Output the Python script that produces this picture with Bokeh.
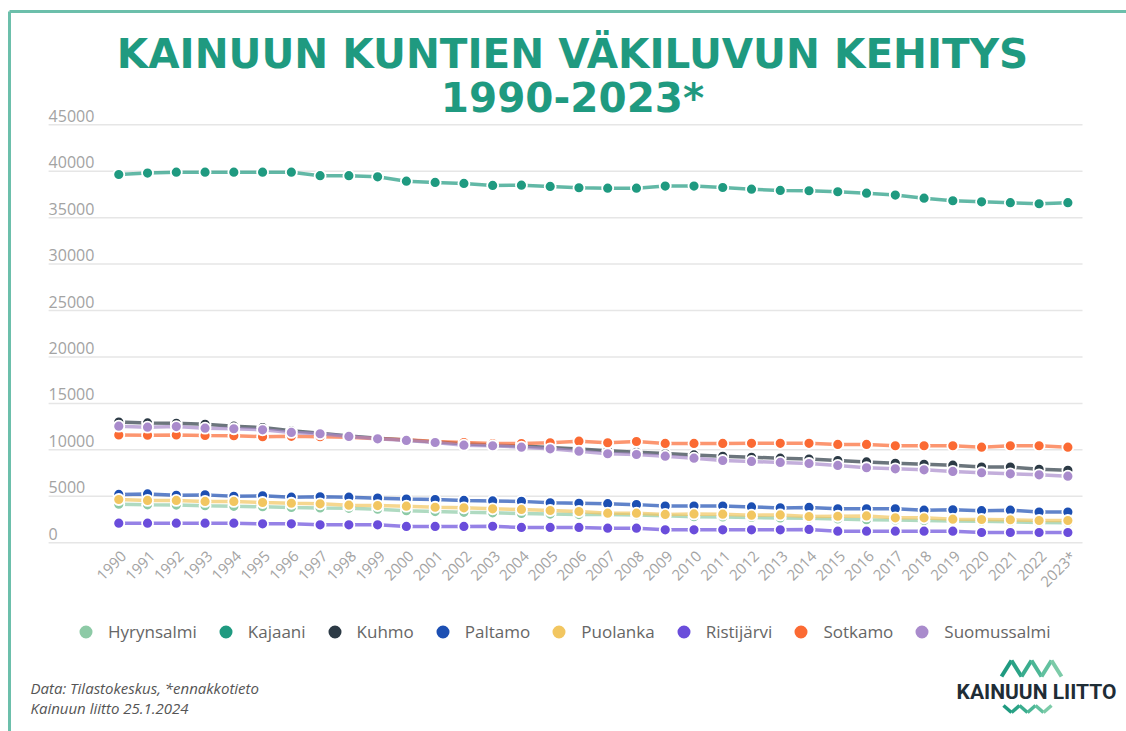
import math
from bokeh.plotting import figure
from bokeh.models import (Range1d, Legend, LegendItem, Label, Arrow)
from bokeh.embed import file_html
from bokeh.resources import INLINE
from bokeh.core.properties import value

years = [str(y) for y in range(1990, 2023)] + ["2023*"]

names = ["Hyrynsalmi", "Kajaani", "Kuhmo", "Paltamo", "Puolanka",
         "Ristijärvi", "Sotkamo", "Suomussalmi"]
colors = ["#8dcaa6", "#1f9a80", "#2c3a45", "#1c4fb3", "#f2c660",
          "#6a4ddb", "#fb6a33", "#a98bcc"]

hyrynsalmi = [4150, 4080, 4050, 3980, 3920, 3870, 3800, 3740, 3700, 3600,
              3450, 3350, 3270, 3220, 3150, 3080, 3030, 3030, 2990, 2900,
              2800, 2780, 2720, 2660, 2630, 2560, 2480, 2450, 2400, 2330,
              2300, 2250, 2180, 2160]
kajaani = [39650, 39800, 39900, 39900, 39900, 39900, 39900, 39520, 39520, 39400,
           38930, 38790, 38690, 38470, 38500, 38360, 38220, 38180, 38180, 38400,
           38400, 38250, 38070, 37930, 37900, 37790, 37640, 37430, 37100, 36820,
           36710, 36610, 36500, 36610]
kuhmo = [13000, 12900, 12850, 12750, 12550, 12400, 12050, 11800, 11500, 11250,
         11050, 10850, 10650, 10500, 10400, 10250, 10100, 9900, 9750, 9600,
         9450, 9300, 9200, 9100, 9000, 8850, 8700, 8550, 8450, 8350,
         8150, 8150, 7900, 7800]
paltamo = [5200, 5250, 5100, 5150, 5000, 5050, 4900, 4950, 4900, 4800,
           4700, 4650, 4550, 4500, 4450, 4300, 4250, 4200, 4100, 3950,
           3950, 3950, 3850, 3750, 3800, 3650, 3650, 3650, 3500, 3550,
           3450, 3500, 3300, 3300]
puolanka = [4650, 4550, 4550, 4440, 4440, 4330, 4250, 4190, 4040, 4000,
            3930, 3820, 3760, 3650, 3580, 3470, 3360, 3180, 3180, 3040,
            3100, 3070, 2960, 2990, 2820, 2850, 2880, 2680, 2680, 2530,
            2500, 2470, 2390, 2390]
ristijarvi = [2100, 2100, 2100, 2100, 2100, 2030, 2030, 1930, 1930, 1930,
              1750, 1750, 1750, 1770, 1640, 1640, 1640, 1560, 1560, 1390,
              1390, 1390, 1390, 1390, 1430, 1240, 1240, 1240, 1240, 1240,
              1100, 1100, 1100, 1100]
sotkamo = [11600, 11580, 11600, 11550, 11520, 11420, 11450, 11420, 11350, 11200,
           11080, 10900, 10780, 10680, 10680, 10750, 10930, 10760, 10900, 10690,
           10690, 10690, 10700, 10700, 10700, 10580, 10580, 10440, 10440, 10440,
           10290, 10440, 10440, 10290]
suomussalmi = [12550, 12440, 12510, 12330, 12270, 12160, 11870, 11730, 11440, 11190,
               11010, 10790, 10500, 10440, 10290, 10110, 9860, 9580, 9500, 9320,
               9100, 8850, 8750, 8640, 8530, 8320, 8070, 7960, 7850, 7670,
               7530, 7420, 7310, 7160]
series = [hyrynsalmi, kajaani, kuhmo, paltamo, puolanka, ristijarvi, sotkamo, suomussalmi]

y_ticks = [0, 5000, 10000, 15000, 20000, 25000, 30000, 35000, 40000, 45000]
y_tick_labels = [str(t) for t in y_ticks]

idx = list(range(len(years)))
X0, X1 = -2.44, 33.51   # extent of the plotting area (grid lines)

p = figure(width=1126, height=731, output_backend="svg", toolbar_location=None,
           x_range=Range1d(-4.113, 35.039), y_range=Range1d(-20330, 58385),
           min_border=0)
p.outline_line_color = None
p.background_fill_color = "white"
p.border_fill_color = "white"
p.axis.visible = False
p.grid.visible = False

# grid lines
p.segment(x0=[X0] * len(y_ticks), x1=[X1] * len(y_ticks), y0=y_ticks, y1=y_ticks,
          line_color="#e6e6e6", line_width=1.5)

# y tick labels (above the grid lines)
p.text(x=[X0] * len(y_ticks), y=y_ticks, text=y_tick_labels,
       text_baseline="bottom", text_align="left", y_offset=-3,
       text_font_size="16px", text_color="#a3a3a3", text_font=value("Open Sans"))

# x tick labels (rotated)
p.text(x=idx, y=[0] * len(idx), text=years, angle=math.pi / 4,
       text_align="right", text_baseline="middle", x_offset=5, y_offset=11,
       text_font_size="15px", text_color="#a3a3a3", text_font=value("Open Sans"))

items = []
for name, col, vals in zip(names, colors, series):
    p.line(x=idx, y=vals, line_color=col, line_width=3.5, line_alpha=0.7)
    r = p.scatter(x=idx, y=vals, size=11, fill_color=col, line_color="white",
                  line_width=1.8)
    items.append(LegendItem(label=name, renderers=[r]))

# screen coords: sx = page_x, sy = 731 - page_y
legend = Legend(items=items, orientation="horizontal", location=(67, 731 - 650),
                glyph_width=37, glyph_height=37, label_standoff=4, spacing=10,
                padding=0, margin=0, border_line_color=None,
                background_fill_alpha=0, label_text_font_size="17px",
                label_text_color="#666666", label_text_font="Open Sans")
p.add_layout(legend)


def lab(text, px, py, **kw):
    p.add_layout(Label(x=px, y=731 - py, x_units="screen", y_units="screen",
                       text=text, **kw))


lab("KAINUUN KUNTIEN VÄKILUVUN KEHITYS", 572, 53, text_align="center",
    text_baseline="alphabetic", text_font_size="40.5px", text_font_style="bold",
    text_color="#1f9a80", text_font="DejaVu Sans")
lab("1990-2023*", 572, 97, text_align="center",
    text_baseline="alphabetic", text_font_size="40.5px", text_font_style="bold",
    text_color="#1f9a80", text_font="DejaVu Sans")
lab("Data: Tilastokeskus, *ennakkotieto", 30, 687, text_align="left",
    text_baseline="alphabetic", text_font_size="15px", text_font_style="italic",
    text_color="#555555", text_font="Open Sans")
lab("Kainuun liitto 25.1.2024", 30, 707, text_align="left",
    text_baseline="alphabetic", text_font_size="15px", text_font_style="italic",
    text_color="#555555", text_font="Open Sans")
lab("KAINUUN LIITTO", 1036, 691, text_align="center",
    text_baseline="alphabetic", text_font_size="21px", text_font_style="bold",
    text_color="#1f2d36", text_font="Roboto")


def seg(x0, y0, x1, y1, color, width):
    p.add_layout(Arrow(end=None, x_start=x0, y_start=731 - y0,
                       x_end=x1, y_end=731 - y1, start_units="screen",
                       end_units="screen", line_color=color, line_width=width))


# page border (top and left)
seg(9, 11, 1126, 11, "#6cbfab", 3)
seg(9, 11, 9, 731, "#6cbfab", 3)

# logo zigzags
zig = [(1001, 676), (1011, 660), (1021, 676), (1031, 660), (1041, 676),
       (1051, 660), (1061, 676)]
zc = ["#1f9a80", "#2aa386", "#3aad8e", "#4cb796", "#62c19f", "#7ccba8"]
for i in range(len(zig) - 1):
    seg(zig[i][0], zig[i][1], zig[i + 1][0], zig[i + 1][1], zc[i], 4)
wav = [(1003, 705), (1011, 712), (1019, 705), (1027, 712), (1035, 705),
       (1043, 712), (1051, 705)]
for i in range(len(wav) - 1):
    seg(wav[i][0], wav[i][1], wav[i + 1][0], wav[i + 1][1], zc[i], 3.5)

open("out.html", "w").write(file_html(p, INLINE))
